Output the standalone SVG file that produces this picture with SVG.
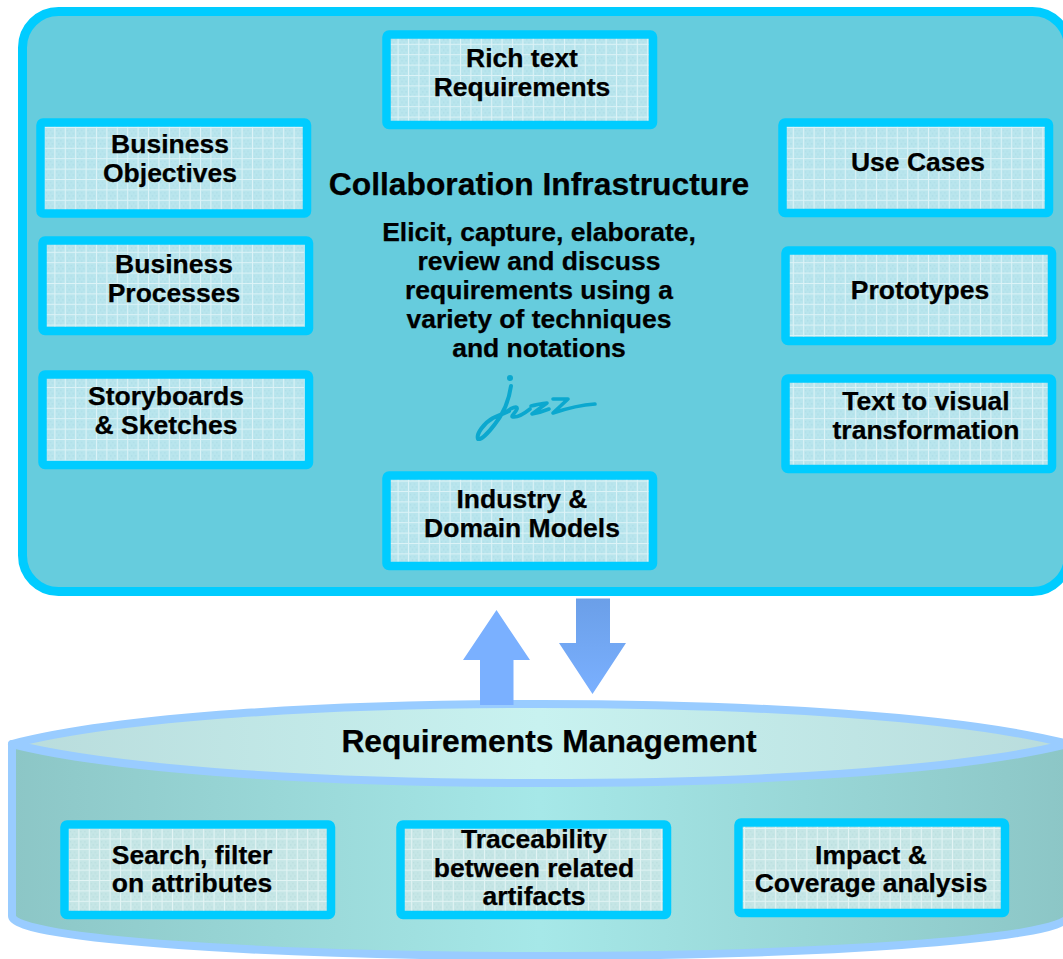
<svg xmlns="http://www.w3.org/2000/svg" width="1063" height="959" viewBox="0 0 1063 959">
<style>
text{font-family:"Liberation Sans",Arial,sans-serif;font-weight:bold;fill:#000;stroke:#000;stroke-width:.25;text-anchor:middle;font-size:26.5px}
.h{font-size:31.8px}
.box{fill:url(#grid);stroke:#00CCFF;stroke-width:8.5;stroke-linejoin:round}
.lo{fill:url(#gridb)}
.j{fill:none;stroke:#0BA8CF;stroke-linecap:round;stroke-linejoin:round}
.cyl{stroke:#99CCFF;stroke-width:8;stroke-linejoin:round}
</style>
<defs>
<pattern id="grid" width="10.4" height="10.4" patternUnits="userSpaceOnUse" x="44" y="127">
<rect width="10.4" height="10.4" fill="#B9E5ED"/><path d="M2 3h1v1h-1zM6 3h1v1h-1zM4 6h1v1h-1zM8 6h1v1h-1zM2 9h1v1h-1zM6 9h1v1h-1z" fill="#A6DAE4"/><path d="M0 .5H10.4M.5 0V10.4" stroke="#DDF3F7" stroke-width="1"/>
</pattern>
<pattern id="gridb" width="10.4" height="10.4" patternUnits="userSpaceOnUse" x="68" y="828">
<rect width="10.4" height="10.4" fill="#C6E6E6"/><path d="M2 3h1v1h-1zM6 3h1v1h-1zM4 6h1v1h-1zM8 6h1v1h-1zM2 9h1v1h-1zM6 9h1v1h-1z" fill="#B2DADA"/><path d="M0 .5H10.4M.5 0V10.4" stroke="#E3F4F4" stroke-width="1"/>
</pattern>
<linearGradient id="side"><stop offset="0" stop-color="#8CC6C6"/><stop offset=".5" stop-color="#A6E8E8"/><stop offset="1" stop-color="#8CC6C6"/></linearGradient>
<linearGradient id="top"><stop offset="0" stop-color="#B9DCDC"/><stop offset=".5" stop-color="#C8F2F0"/><stop offset="1" stop-color="#B9DCDC"/></linearGradient>
<linearGradient id="dn" x1="0" y1="0" x2="0" y2="1"><stop offset="0" stop-color="#6B9FE8"/><stop offset="1" stop-color="#7AB0FF"/></linearGradient>
</defs>
<g id="collaboration">
<rect x="22.5" y="11.5" width="1046" height="580" rx="36" fill="#66CCDD" stroke="#00CCFF" stroke-width="9"/>
<text class="h" x="539" y="195">Collaboration Infrastructure</text>
<text x="539" y="241">Elicit, capture, elaborate,</text>
<text x="539" y="270">review and discuss</text>
<text x="539" y="299">requirements using a</text>
<text x="539" y="328">variety of techniques</text>
<text x="539" y="357">and notations</text>
</g>
<g id="jazz-logo">
<path class="j" stroke-width="4" d="M511 386C509 400 503 414 495 424C489 432 481 440 478 439C476 434 484 423 493 418C499 415 505 413 509 411"/>
<path class="j" stroke-width="3.6" d="M506 412C511 408 518 405 517 409C515 414 509 417 514 417C519 417 525 413 530 409"/>
<path class="j" stroke-width="3.6" d="M531 406C537 405 542 403 547 403L532 414C538 413 544 411 549 409"/>
<path class="j" stroke-width="3.6" d="M553 399H568L553 413C568 408 580 405 595 404"/>
<circle cx="510" cy="378" r="3" fill="#0BA8CF"/>
</g>
<g id="requirements-management">
<path class="cyl" d="M12 744V916C12 940 280 956 540 956S1068 940 1068 916V744Z" fill="url(#side)"/>
<path class="cyl" d="M12 744C120 716 330 704 540 704S960 716 1068 744C960 771 750 783 540 783S120 771 12 744Z" fill="url(#top)"/>
<text class="h" x="549" y="752">Requirements Management</text>
</g>
<g id="connectors">
<path d="M496.5 610L530 660H513.5V705H480V660H463Z" fill="#7AB0FF"/>
<path d="M576 598.500H610V643H626L592.500 694L559 643H576Z" fill="url(#dn)"/>
</g>
<g id="rich-text"><rect class="box" x="386.500" y="34.500" width="266.500" height="90.500" rx="2.500"/><text x="522" y="67">Rich text</text><text x="522" y="96">Requirements</text></g>
<g id="business-objectives"><rect class="box" x="40.500" y="122.500" width="266.500" height="91" rx="2.500"/><text x="170" y="153">Business</text><text x="170" y="182">Objectives</text></g>
<g id="business-processes"><rect class="box" x="42.500" y="240.500" width="266.500" height="90.500" rx="2.500"/><text x="174" y="273">Business</text><text x="174" y="302">Processes</text></g>
<g id="storyboards"><rect class="box" x="42.500" y="374.500" width="266.500" height="90.500" rx="2.500"/><text x="166" y="405">Storyboards</text><text x="166" y="434">&amp; Sketches</text></g>
<g id="use-cases"><rect class="box" x="782.500" y="122.500" width="266.500" height="90.500" rx="2.500"/><text x="918" y="171">Use Cases</text></g>
<g id="prototypes"><rect class="box" x="785.500" y="250.500" width="266.500" height="90.500" rx="2.500"/><text x="920" y="299">Prototypes</text></g>
<g id="text-to-visual"><rect class="box" x="785.500" y="378.500" width="266.500" height="90.500" rx="2.500"/><text x="926" y="410">Text to visual</text><text x="926" y="439">transformation</text></g>
<g id="industry"><rect class="box" x="386.500" y="475.500" width="266.500" height="90.500" rx="2.500"/><text x="522" y="508">Industry &amp;</text><text x="522" y="537">Domain Models</text></g>
<g id="search"><rect class="box lo" x="64.500" y="824.500" width="266.500" height="90.500" rx="2.500"/><text x="192" y="864">Search, filter</text><text x="192" y="892">on attributes</text></g>
<g id="traceability"><rect class="box lo" x="400.500" y="824.500" width="266.500" height="90.500" rx="2.500"/><text x="534" y="848">Traceability</text><text x="534" y="877">between related</text><text x="534" y="905">artifacts</text></g>
<g id="impact"><rect class="box lo" x="738.500" y="822.500" width="266.500" height="90.500" rx="2.500"/><text x="871" y="864">Impact &amp;</text><text x="871" y="892">Coverage analysis</text></g>
</svg>
